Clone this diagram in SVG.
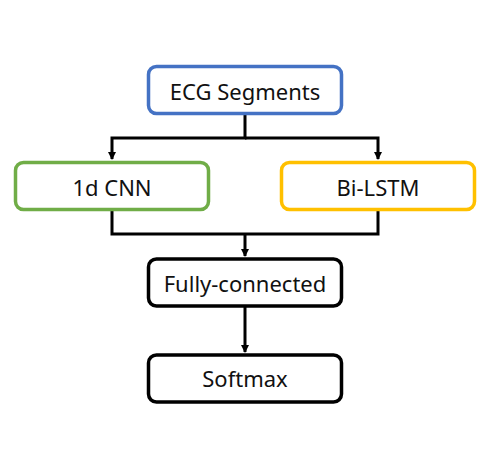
<svg xmlns="http://www.w3.org/2000/svg" width="498" height="475" viewBox="0 0 498 475">
<defs>
<style>
.box{fill:#fff;stroke-width:3.5}
.lbl{font-family:"Noto Sans","DejaVu Sans",sans-serif;font-size:22px;fill:#111;text-anchor:middle}
.con{fill:none;stroke:#000;stroke-width:3}
</style>
<marker id="ah" markerWidth="8" markerHeight="8" refX="7" refY="4" orient="auto" markerUnits="userSpaceOnUse" viewBox="0 0 8 8">
<path d="M0,0 L8,4 L0,8 Z" fill="#000"/>
</marker>
</defs>
<rect width="498" height="475" fill="#fff"/>
<g id="connectors">
<path class="con" d="M245,113 V138 H112 V159" marker-end="url(#ah)"/>
<path class="con" d="M245,138 H378 V159" marker-end="url(#ah)"/>
<path class="con" d="M112,211 V234 H378 V211"/>
<path class="con" d="M245,234 V256" marker-end="url(#ah)"/>
<path class="con" d="M245,307 V352" marker-end="url(#ah)"/>
</g>
<g id="ecg">
<rect class="box" x="148.5" y="66.5" width="193" height="47" rx="8" stroke="#4472C4"/>
<text class="lbl" x="245" y="100">ECG Segments</text>
</g>
<g id="cnn">
<rect class="box" x="15.5" y="162.5" width="193" height="47" rx="8" stroke="#70AD47"/>
<text class="lbl" x="112" y="196">1d CNN</text>
</g>
<g id="lstm">
<rect class="box" x="281.5" y="162.5" width="193" height="47" rx="8" stroke="#FFC000"/>
<text class="lbl" x="378" y="196">Bi-LSTM</text>
</g>
<g id="fc">
<rect class="box" x="148.5" y="259" width="193" height="47" rx="8" stroke="#000"/>
<text class="lbl" x="245" y="292">Fully-connected</text>
</g>
<g id="softmax">
<rect class="box" x="148.5" y="355" width="193" height="47" rx="8" stroke="#000"/>
<text class="lbl" x="245" y="387">Softmax</text>
</g>
</svg>
